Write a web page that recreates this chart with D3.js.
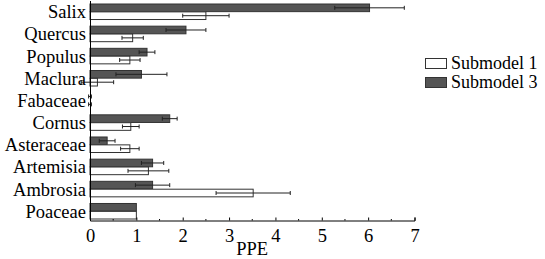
<!DOCTYPE html>
<html><head><meta charset="utf-8">
<script src="https://cdn.jsdelivr.net/npm/d3@7"></script>
<style>body{margin:0;background:#fff}svg{display:block}text{font-family:"Liberation Serif","Times New Roman",serif;fill:#000}</style>
</head><body><svg id="c" width="545" height="259"></svg>
<script>
const categories = ["Salix","Quercus","Populus","Maclura","Fabaceae","Cornus","Asteraceae","Artemisia","Ambrosia","Poaceae"];
const series = ["Submodel 3","Submodel 1"];
const sub3 = [6.03, 2.07, 1.23, 1.11, 0, 1.72, 0.37, 1.35, 1.35, 1.0];
const sub3err = [0.75, 0.43, 0.17, 0.55, 0.03, 0.16, 0.17, 0.24, 0.37, 0];
const sub1 = [2.5, 0.92, 0.86, 0.16, 0, 0.88, 0.86, 1.26, 3.52, 1.0];
const sub1err = [0.5, 0.23, 0.22, 0.35, 0.03, 0.18, 0.2, 0.44, 0.8, 0];
const xTicks = [0,1,2,3,4,5,6,7];
const legendItems = ["Submodel 1","Submodel 3"];
const colors = {"Submodel 1":"#ffffff","Submodel 3":"#555555"};
const FONT = "Liberation Serif, Times New Roman, serif";

const svg = d3.select("#c");
const x = d3.scaleLinear().domain([0,7]).range([90,414.5]);
const y = d3.scaleBand().domain(categories).range([4,219]).paddingInner(0.3).paddingOuter(0);
const ys = d3.scaleBand().domain(series).range([0,y.bandwidth()]).paddingInner(0.03);

const rows = [];
categories.forEach((c,i)=>{
  rows.push({c, s:"Submodel 3", v:sub3[i], e:sub3err[i]});
  rows.push({c, s:"Submodel 1", v:sub1[i], e:sub1err[i]});
});

const g = svg.append("g");
g.selectAll("rect.bar").data(rows).join("rect")
  .attr("x", x(0)).attr("y", d=>y(d.c)+ys(d.s))
  .attr("width", d=>Math.max(0, x(d.v)-x(0))).attr("height", ys.bandwidth())
  .attr("fill", d=>colors[d.s]).attr("stroke", d=>d.v>0?"#333":"none").attr("stroke-width",1);

const cy = d=>y(d.c)+ys(d.s)+ys.bandwidth()/2;
const eb = g.selectAll("g.err").data(rows.filter(d=>d.e>0)).join("g").attr("stroke","#222").attr("stroke-width",1);
eb.append("line").attr("x1",d=>x(d.v-d.e)).attr("x2",d=>x(d.v+d.e)).attr("y1",cy).attr("y2",cy);
eb.append("line").attr("x1",d=>x(d.v-d.e)).attr("x2",d=>x(d.v-d.e)).attr("y1",d=>cy(d)-2).attr("y2",d=>cy(d)+2);
eb.append("line").attr("x1",d=>x(d.v+d.e)).attr("x2",d=>x(d.v+d.e)).attr("y1",d=>cy(d)-2).attr("y2",d=>cy(d)+2);

// x axis
const axY = 220.5;
const xa = svg.append("g").attr("transform",`translate(0,${axY})`)
  .call(d3.axisBottom(x).tickValues(xTicks).tickSize(-3).tickPadding(8).tickFormat(d3.format("d")));
xa.attr("font-family", FONT);
xa.select(".domain").attr("stroke","#000");
xa.selectAll(".tick line").attr("stroke","#000");
xa.selectAll("text").attr("font-size",18.5).attr("font-family",FONT).attr("fill","#000");
// minor ticks
svg.append("g").selectAll("line").data(d3.range(0.5,7,1)).join("line")
  .attr("x1",d=>x(d)).attr("x2",d=>x(d)).attr("y1",axY).attr("y2",axY-1.5).attr("stroke","#000");

// y axis line
svg.append("line").attr("x1",90.5).attr("x2",90.5).attr("y1",1).attr("y2",axY).attr("stroke","#000");

// category labels
svg.append("g").selectAll("text").data(categories).join("text")
  .attr("x",86).attr("y",d=>y(d)+y.bandwidth()/2+6.5).attr("text-anchor","end")
  .attr("font-family",FONT).attr("font-size",18.5).text(d=>d);

// x label
svg.append("text").attr("x",x(3.5)).attr("y",255).attr("text-anchor","middle")
  .attr("font-family",FONT).attr("font-size",18.5).text("PPE");

// legend
const lg = svg.append("g");
legendItems.forEach((s,i)=>{
  lg.append("rect").attr("x",425.5).attr("y",58.5+i*19).attr("width",21).attr("height",10)
    .attr("fill",colors[s]).attr("stroke","#333");
  lg.append("text").attr("x",451).attr("y",68.5+i*19).attr("font-family",FONT).attr("font-size",18).text(s);
});
</script></body></html>
